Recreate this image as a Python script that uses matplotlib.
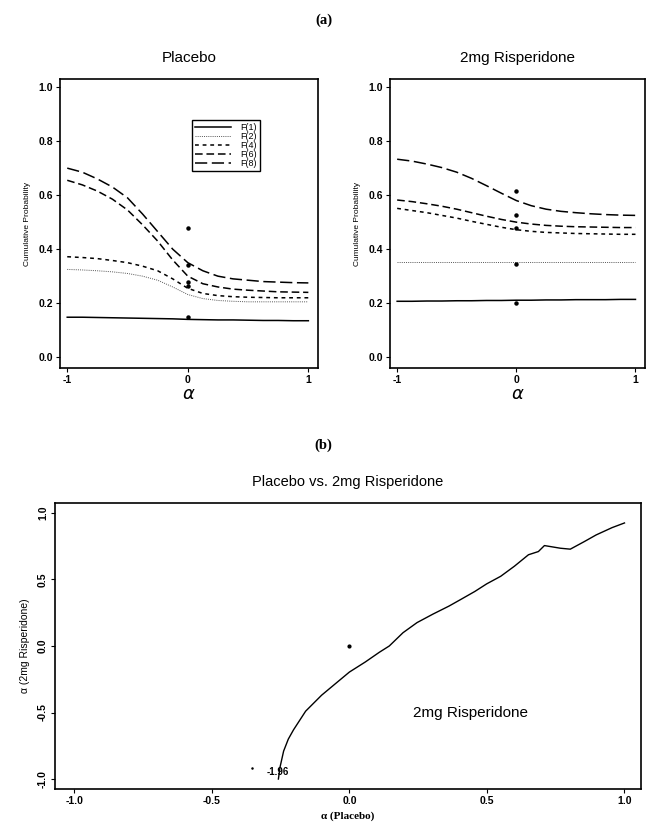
import numpy as np
import matplotlib
matplotlib.use("Agg")
import matplotlib.pyplot as plt

# valores
alpha = [-1.0, -0.875, -0.75, -0.625, -0.5, -0.375, -0.25, -0.125, 0.0,
         0.125, 0.25, 0.375, 0.5, 0.625, 0.75, 0.875, 1.0]
rotulos = ["F(1)", "F(2)", "F(4)", "F(6)", "F(8)"]

placebo_f1 = [0.148, 0.148, 0.147, 0.146, 0.145, 0.144, 0.143, 0.142, 0.140,
              0.139, 0.138, 0.138, 0.137, 0.136, 0.136, 0.135, 0.135]
placebo_f2 = [0.325, 0.323, 0.320, 0.316, 0.310, 0.300, 0.285, 0.260, 0.232,
              0.217, 0.210, 0.207, 0.205, 0.205, 0.205, 0.205, 0.205]
placebo_f4 = [0.372, 0.369, 0.365, 0.358, 0.350, 0.337, 0.320, 0.290, 0.255,
              0.236, 0.228, 0.224, 0.222, 0.221, 0.220, 0.220, 0.220]
placebo_f6 = [0.655, 0.638, 0.615, 0.585, 0.545, 0.490, 0.430, 0.360, 0.300,
              0.272, 0.260, 0.252, 0.248, 0.245, 0.242, 0.241, 0.240]
placebo_f8 = [0.700, 0.685, 0.660, 0.630, 0.590, 0.530, 0.465, 0.400, 0.350,
              0.320, 0.300, 0.290, 0.285, 0.280, 0.278, 0.276, 0.275]
placebo_pontos = [0.48, 0.34, 0.28, 0.265, 0.15]

risp_f1 = [0.207, 0.207, 0.208, 0.208, 0.209, 0.209, 0.210, 0.210, 0.211,
           0.211, 0.212, 0.212, 0.213, 0.213, 0.213, 0.214, 0.214]
risp_f2 = [0.352] * 17
risp_f4 = [0.551, 0.543, 0.535, 0.525, 0.515, 0.503, 0.492, 0.481, 0.472,
           0.466, 0.462, 0.460, 0.458, 0.457, 0.456, 0.455, 0.455]
risp_f6 = [0.582, 0.576, 0.568, 0.559, 0.548, 0.535, 0.522, 0.510, 0.500,
           0.493, 0.488, 0.485, 0.483, 0.482, 0.481, 0.480, 0.480]
risp_f8 = [0.733, 0.726, 0.715, 0.702, 0.685, 0.662, 0.635, 0.607, 0.580,
           0.561, 0.548, 0.540, 0.535, 0.531, 0.528, 0.526, 0.525]
risp_pontos = [0.615, 0.525, 0.48, 0.345, 0.20]

# curva placebo vs risperidona
alpha_placebo = [-0.258, -0.252, -0.239, -0.222, -0.203, -0.159, -0.101, -0.043, 0.0,
                 0.058, 0.109, 0.145, 0.195, 0.246, 0.304, 0.362, 0.405, 0.456,
                 0.499, 0.55, 0.60, 0.651, 0.687, 0.709, 0.767, 0.803, 0.854,
                 0.897, 0.955, 1.0]
alpha_risp = [-1.0, -0.91, -0.79, -0.70, -0.63, -0.49, -0.37, -0.27, -0.196,
              -0.12, -0.047, 0.0, 0.10, 0.176, 0.24, 0.30, 0.35, 0.41,
              0.467, 0.524, 0.60, 0.686, 0.71, 0.755, 0.735, 0.728, 0.785,
              0.835, 0.89, 0.925]

estilos = [dict(ls="-", lw=1.1, color="black"),
           dict(ls=(0, (1, 1.2)), lw=0.7, color="#555555"),
           dict(ls=(0, (2.5, 2.5)), lw=1.1, color="black"),
           dict(ls=(0, (5, 2.5)), lw=1.1, color="black"),
           dict(ls=(0, (8, 3)), lw=1.1, color="black")]

plt.rcParams['font.family'] = ['Liberation Sans', 'DejaVu Sans']

W, H = 647, 825
fig = plt.figure(figsize=(W / 100, H / 100), dpi=100)


def eixo(x0, y0, x1, y1):
    return fig.add_axes([x0 / W, 1 - y1 / H, (x1 - x0) / W, (y1 - y0) / H])


def estilo_eixo(ax):
    for s in ax.spines.values():
        s.set_linewidth(1.2)
    ax.tick_params(direction="out", length=3, width=0.8, labelsize=7.5, pad=2)
    for t in ax.get_xticklabels() + ax.get_yticklabels():
        t.set_fontweight("bold")


def painel(ax, titulo, curvas, pontos):
    for c, est, lab in zip(curvas, estilos, rotulos):
        ax.plot(alpha, c, label=lab, **est)
    ax.plot([0] * len(pontos), pontos, "o", ms=2.2, color="black")
    ax.set_xlim(-1.06, 1.08)
    ax.set_ylim(-0.04, 1.03)
    ax.set_xticks([-1, 0, 1])
    ax.set_xticklabels(["-1", "0", "1"])
    ax.set_yticks([0, 0.2, 0.4, 0.6, 0.8, 1.0])
    ax.set_yticklabels(["0.0", "0.2", "0.4", "0.6", "0.8", "1.0"])
    ax.set_title(titulo, fontsize=11, pad=12)
    ax.set_xlabel(r"$\alpha$", fontsize=13, labelpad=1)
    ax.set_ylabel("Cumulative Probability", fontsize=6, labelpad=5,
                  fontstretch="condensed")
    estilo_eixo(ax)


fig.text(0.5, 1 - 20 / H, "(a)", ha="center", va="center", fontsize=10.5,
         family="Liberation Serif", fontweight="bold")
fig.text(0.5, 1 - 445 / H, "(b)", ha="center", va="center", fontsize=10.5,
         family="Liberation Serif", fontweight="bold")

ax1 = eixo(60, 79, 318, 368)
painel(ax1, "Placebo", [placebo_f1, placebo_f2, placebo_f4, placebo_f6, placebo_f8],
       placebo_pontos)
leg = ax1.legend(loc="upper left", bbox_to_anchor=(0.495, 0.875), fontsize=6.5,
                 handlelength=4.0, labelspacing=0.0, borderpad=0.35,
                 handletextpad=1.0, fancybox=False, framealpha=1,
                 edgecolor="black")
leg.get_frame().set_linewidth(1.0)

ax2 = eixo(390, 79, 645, 368)
painel(ax2, "2mg Risperidone", [risp_f1, risp_f2, risp_f4, risp_f6, risp_f8],
       risp_pontos)

ax3 = eixo(55, 503, 641, 789)
ax3.plot(alpha_placebo, alpha_risp, color="black", lw=1.0)
ax3.plot([0], [0], "o", ms=2, color="black")
ax3.plot([-0.355], [-0.92], "o", ms=0.8, color="black")
ax3.text(-0.3, -0.945, "-1.96", fontsize=7, fontweight="bold", va="center")
ax3.text(0.23, -0.505, "2mg Risperidone", fontsize=11, va="center")
ax3.set_xlim(-1.07, 1.06)
ax3.set_ylim(-1.075, 1.075)
ax3.set_xticks([-1, -0.5, 0, 0.5, 1])
ax3.set_xticklabels(["-1.0", "-0.5", "0.0", "0.5", "1.0"])
ax3.set_yticks([-1, -0.5, 0, 0.5, 1])
ax3.set_yticklabels(["-1.0", "-0.5", "0.0", "0.5", "1.0"], rotation=90, va="center")
ax3.set_title("Placebo vs. 2mg Risperidone", fontsize=10.5, pad=12)
ax3.set_xlabel(u"\u03b1 (Placebo)", fontsize=8, family="Liberation Serif",
               fontweight="bold", labelpad=4)
ax3.set_ylabel(u"\u03b1 (2mg Risperidone)", fontsize=7.5, labelpad=6)
estilo_eixo(ax3)

fig.savefig("out.png", dpi=100)
